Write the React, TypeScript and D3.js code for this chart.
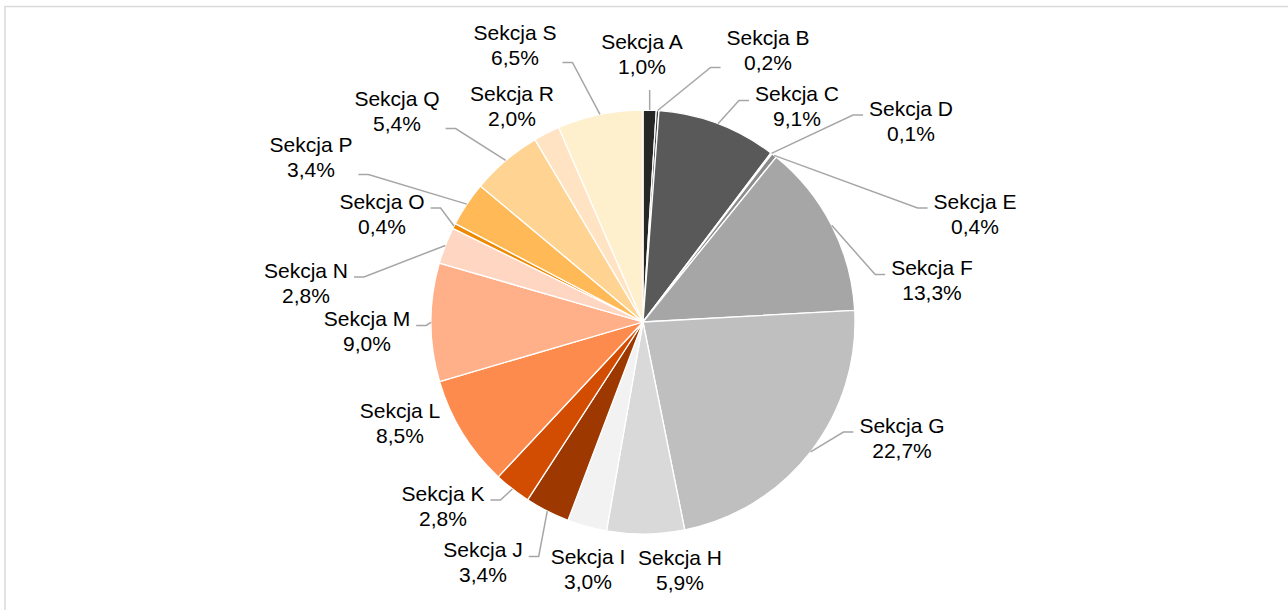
import React, { useEffect, useRef } from "react";
import * as d3 from "d3";

// data (share of each section, %)
const sections = ["A", "B", "C", "D", "E", "F", "G", "H", "I", "J", "K", "L", "M", "N", "O", "P", "Q", "R", "S"];
const shares = [1.0, 0.2, 9.1, 0.1, 0.4, 13.3, 22.7, 5.9, 3.0, 3.4, 2.8, 8.5, 9.0, 2.8, 0.4, 3.4, 5.4, 2.0, 6.5];
const colors = [
  "#262626", "#404040", "#595959", "#737373", "#8c8c8c", "#a6a6a6", "#bfbfbf", "#d9d9d9", "#f2f2f2",
  "#9c3800", "#d24c02", "#fd8b4e", "#ffb089", "#ffd6c2", "#ee8a00", "#ffba57", "#ffd492", "#ffe3c3", "#fff0cd",
];

// label placement (offset of label centre from the pie centre), Excel "best fit" style
const labelOffsets: [number, number][] = [
  [-1, -267.5], [125, -271.5], [154, -215.5], [268, -201], [332, -108], [289, -41.5], [259, 116],
  [37, 248.5], [-55, 247], [-160, 240.5], [-200, 184], [-243, 101], [-276, 9.5], [-337, -39],
  [-261, -108], [-332, -164.5], [-246, -210.5], [-131, -216], [-128, -276.5],
];
const hasLeader = [true, true, true, true, true, true, true, false, false, true, true, false, true, true, true, true, true, false, true];

const W = 1288;
const H = 610;

const fmt = (v: number) => v.toFixed(1).replace(".", ",") + "%";

export default function App() {
  const ref = useRef<SVGSVGElement>(null);

  useEffect(() => {
    const svg = d3.select(ref.current);
    svg.selectAll("*").remove();

    const cx = 643;
    const cy = 322;
    const radius = 212;

    svg.append("rect")
      .attr("x", 5)
      .attr("y", 6.5)
      .attr("width", 1400)
      .attr("height", 700)
      .attr("fill", "#fff")
      .attr("stroke", "#d9d9d9")
      .attr("stroke-width", 1.5);

    const data = sections.map((s, i) => ({ name: "Sekcja " + s, value: shares[i], color: colors[i], i }));

    const pie = d3.pie<any>().value(d => d.value).sort(null);
    const arc = d3.arc<any>().innerRadius(0).outerRadius(radius);
    const arcs = pie(data);

    const g = svg.append("g").attr("transform", `translate(${cx},${cy})`);

    g.selectAll("path.slice")
      .data(arcs)
      .enter()
      .append("path")
      .attr("class", "slice")
      .attr("d", arc)
      .attr("fill", d => d.data.color)
      .attr("stroke", "#fff")
      .attr("stroke-width", 1.3)
      .attr("stroke-linejoin", "round");

    const leaders = g.append("g");
    const labels = g.append("g")
      .style("font-family", "'Liberation Sans', Arial, sans-serif")
      .style("font-size", "21px")
      .attr("fill", "#000");

    arcs.forEach(d => {
      const i = d.data.i;
      const [lx, ly] = labelOffsets[i];
      const t = labels.append("text").attr("text-anchor", "middle");
      t.append("tspan").attr("x", lx).attr("y", ly - 12.5 + 7).text(d.data.name);
      t.append("tspan").attr("x", lx).attr("y", ly + 12.5 + 7).text(fmt(d.data.value));

      if (!hasLeader[i]) return;

      const node = t.node() as SVGTextElement;
      const w = node.getBBox().width;
      const left = lx - w / 2;
      const right = lx + w / 2;
      const bottom = ly + 12.5 + 7 + 4;

      const mid = (d.startAngle + d.endAngle) / 2;
      const sx = radius * Math.sin(mid);
      const sy = -radius * Math.cos(mid);

      let pts: [number, number][];
      if (sx > left && sx < right) {
        pts = [[sx, sy], [sx, bottom + 12]];
      } else {
        const ay = sy - ly > 45 ? ly + 17 : ly - 6;
        if (lx > sx) {
          pts = [[sx, sy], [left - 16, ay], [left - 6, ay]];
        } else {
          pts = [[sx, sy], [right + 16, ay], [right + 6, ay]];
        }
      }

      leaders.append("path")
        .attr("d", d3.line()(pts))
        .attr("fill", "none")
        .attr("stroke", "#a6a6a6")
        .attr("stroke-width", 1.5);
    });
  }, []);

  return (
    <svg
      ref={ref}
      width={W}
      height={H}
      style={{ position: "fixed", left: 0, top: 0, display: "block" }}
    />
  );
}
